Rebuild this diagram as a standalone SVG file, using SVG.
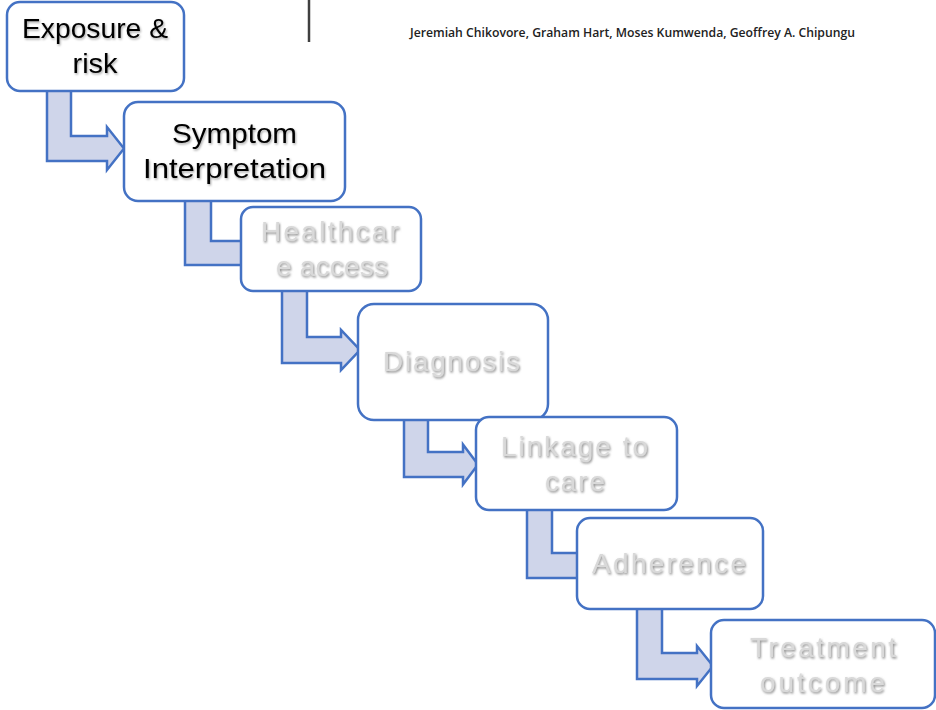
<svg xmlns="http://www.w3.org/2000/svg" width="936" height="710" viewBox="0 0 936 710">
<defs>
<filter id="sh" x="-10%" y="-20%" width="130%" height="150%">
<feDropShadow dx="1" dy="1.5" stdDeviation="0.8" flood-color="#7f7f7f" flood-opacity="0.9"/>
</filter>
<filter id="shb" x="-10%" y="-20%" width="130%" height="150%">
<feDropShadow dx="1" dy="1.5" stdDeviation="0.8" flood-color="#000" flood-opacity="0.35"/>
</filter>
</defs>
<style>
.box{fill:#fff;stroke:#4472C4;stroke-width:2.5}
.arr{fill:#CFD5EA;stroke:#4472C4;stroke-width:2.5;stroke-linejoin:miter}
.t{font-family:"Liberation Sans",Arial,sans-serif;font-size:28px;text-anchor:middle}
.blk{fill:#000;filter:url(#shb)}
.gry{fill:#d9d9d9;filter:url(#sh)}
.auth{font-family:"Open Sans","Liberation Sans",sans-serif;font-size:12px;font-weight:600;fill:#222}
</style>
<rect width="936" height="710" fill="#fff"/>
<line x1="309" y1="0" x2="309" y2="42" stroke="#404040" stroke-width="2.5"/>
<text class="auth" x="410" y="37" textLength="445" lengthAdjust="spacingAndGlyphs">Jeremiah Chikovore, Graham Hart, Moses Kumwenda, Geoffrey A. Chipungu</text>
<g id="connectors">
<polygon class="arr" points="47,88 71,88 71,136 107,136 107,127 124,148.5 107,170 107,161 47,161"/>
<polygon class="arr" points="185,198 211,198 211,241 250,241 250,232 268,253 250,274 250,265 185,265"/>
<polygon class="arr" points="282,288 307,288 307,337 341,337 341,330 360,350 341,370 341,363 282,363"/>
<polygon class="arr" points="404,417 428,417 428,452 463,452 463,444.5 478,464.5 463,484.5 463,477 404,477"/>
<polygon class="arr" points="527,507 552,507 552,553 590,553 590,545 605,565.5 590,586 590,578 527,578"/>
<polygon class="arr" points="637,606 662,606 662,653 697,653 697,646 713,666 697,686 697,679 637,679"/>
</g>
<g id="n1">
<rect class="box" x="7" y="2" width="177" height="89" rx="13"/>
<text class="t blk" x="95" y="38" textLength="146" lengthAdjust="spacingAndGlyphs">Exposure &amp;</text>
<text class="t blk" x="95" y="73" textLength="45" lengthAdjust="spacingAndGlyphs">risk</text>
</g>
<g id="n2">
<rect class="box" x="124" y="102" width="221" height="99" rx="14"/>
<text class="t blk" x="234.5" y="143" textLength="125" lengthAdjust="spacingAndGlyphs">Symptom</text>
<text class="t blk" x="234.5" y="178" textLength="183" lengthAdjust="spacingAndGlyphs">Interpretation</text>
</g>
<g id="n3">
<rect class="box" x="241" y="207" width="180" height="84" rx="12"/>
<text class="t gry" x="330" y="241" textLength="138" lengthAdjust="spacing">Healthcar</text>
<text class="t gry" x="332" y="276" textLength="112" lengthAdjust="spacing">e access</text>
</g>
<g id="n4">
<rect class="box" x="358" y="304" width="190" height="116" rx="16"/>
<text class="t gry" x="451.5" y="371" textLength="137" lengthAdjust="spacing">Diagnosis</text>
</g>
<g id="n5">
<rect class="box" x="476" y="417" width="201" height="93" rx="13"/>
<text class="t gry" x="574.5" y="456" textLength="147" lengthAdjust="spacing">Linkage to</text>
<text class="t gry" x="575" y="491" textLength="60" lengthAdjust="spacing">care</text>
</g>
<g id="n6">
<rect class="box" x="577" y="518" width="186" height="91" rx="13"/>
<text class="t gry" x="669" y="573" textLength="154" lengthAdjust="spacing">Adherence</text>
</g>
<g id="n7">
<rect class="box" x="711" y="620" width="224" height="88" rx="13"/>
<text class="t gry" x="823" y="657" textLength="146" lengthAdjust="spacing">Treatment</text>
<text class="t gry" x="822.5" y="692" textLength="125" lengthAdjust="spacing">outcome</text>
</g>
</svg>
